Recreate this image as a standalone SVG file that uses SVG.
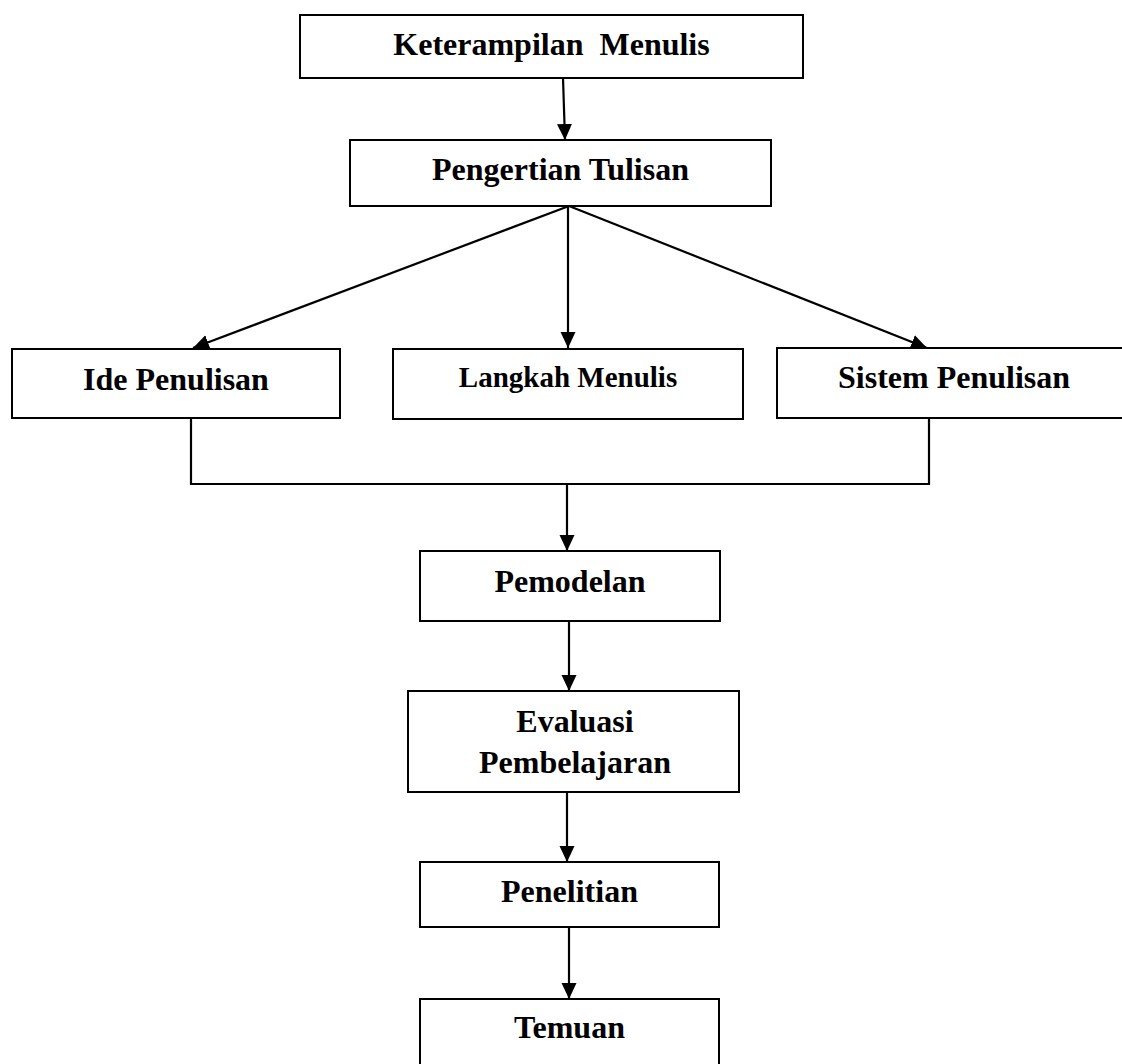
<svg xmlns="http://www.w3.org/2000/svg" width="1122" height="1064" viewBox="0 0 1122 1064">
<style>
.box{fill:#fff;stroke:#000;stroke-width:2}
.t{font-family:"Liberation Serif","Times New Roman",serif;font-weight:bold;font-size:32px;fill:#000;text-anchor:middle}
.s{font-size:29px}
.c{fill:none;stroke:#000;stroke-width:2.2}
</style>
<defs>
<marker id="arr" markerUnits="userSpaceOnUse" markerWidth="18" markerHeight="16" refX="16" refY="7.5" orient="auto">
<path d="M0,0 L16,7.5 L0,15 z" fill="#000"/>
</marker>
</defs>
<rect width="1122" height="1064" fill="#fff"/>
<g id="connectors">
<line class="c" x1="563" y1="78" x2="565" y2="140" marker-end="url(#arr)"/>
<line class="c" x1="569" y1="206" x2="193" y2="348" marker-end="url(#arr)"/>
<line class="c" x1="568" y1="206" x2="568" y2="348" marker-end="url(#arr)"/>
<line class="c" x1="569" y1="206" x2="927" y2="348" marker-end="url(#arr)"/>
<polyline class="c" points="191,418 191,484 929,484 929,418"/>
<line class="c" x1="567" y1="484" x2="567" y2="551" marker-end="url(#arr)"/>
<line class="c" x1="569" y1="621" x2="569" y2="691" marker-end="url(#arr)"/>
<line class="c" x1="567" y1="792" x2="567" y2="862" marker-end="url(#arr)"/>
<line class="c" x1="569" y1="927" x2="569" y2="999" marker-end="url(#arr)"/>
</g>
<g id="keterampilan"><rect class="box" x="300" y="15" width="503" height="63"/><text class="t" x="551.5" y="55" xml:space="preserve">Keterampilan  Menulis</text></g>
<g id="pengertian"><rect class="box" x="350" y="140" width="421" height="66"/><text class="t" x="560.5" y="180">Pengertian Tulisan</text></g>
<g id="ide"><rect class="box" x="12" y="349" width="328" height="69"/><text class="t" x="176" y="390">Ide Penulisan</text></g>
<g id="langkah"><rect class="box" x="393" y="349" width="350" height="70"/><text class="t s" x="568" y="387">Langkah Menulis</text></g>
<g id="sistem"><rect class="box" x="777" y="348" width="360" height="70"/><text class="t" x="954" y="388">Sistem Penulisan</text></g>
<g id="pemodelan"><rect class="box" x="420" y="551" width="300" height="70"/><text class="t" x="570" y="592">Pemodelan</text></g>
<g id="evaluasi"><rect class="box" x="408" y="691" width="331" height="101"/><text class="t" x="575" y="732">Evaluasi</text><text class="t" x="575" y="773">Pembelajaran</text></g>
<g id="penelitian"><rect class="box" x="420" y="862" width="299" height="65"/><text class="t" x="569.5" y="902">Penelitian</text></g>
<g id="temuan"><rect class="box" x="420" y="999" width="299" height="80"/><text class="t" x="569.5" y="1038">Temuan</text></g>
</svg>
